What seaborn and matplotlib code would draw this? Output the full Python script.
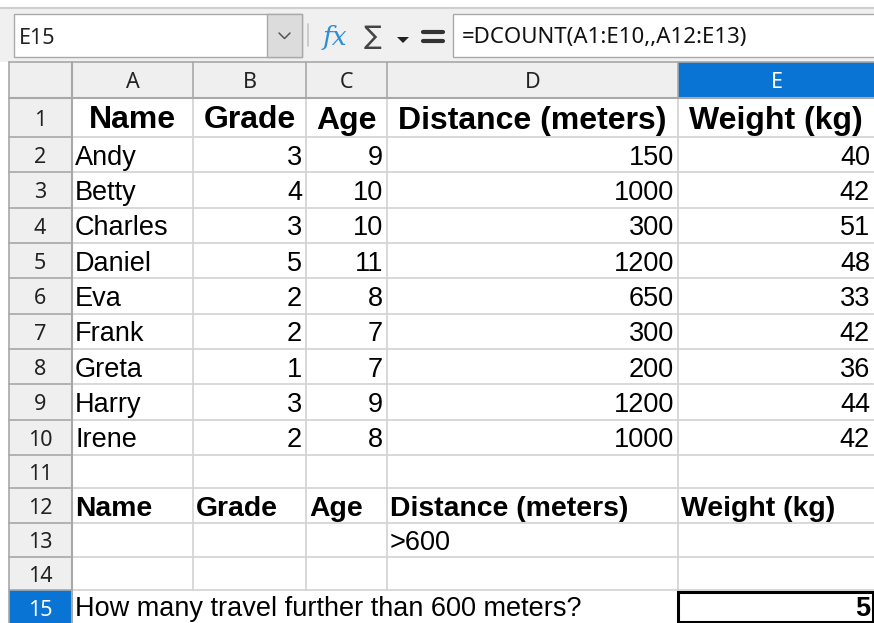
import matplotlib
matplotlib.use("Agg")
import matplotlib.pyplot as plt
from matplotlib.patches import Rectangle, Polygon
import seaborn as sns

# ---------------- data ----------------
col_letters = ["A", "B", "C", "D", "E"]
headers = ["Name", "Grade", "Age", "Distance (meters)", "Weight (kg)"]
names = ["Andy", "Betty", "Charles", "Daniel", "Eva", "Frank", "Greta", "Harry", "Irene"]
grades = [3, 4, 3, 5, 2, 2, 1, 3, 2]
ages = [9, 10, 10, 11, 8, 7, 7, 9, 8]
distances = [150, 1000, 300, 1200, 650, 300, 200, 1200, 1000]
weights = [40, 42, 51, 48, 33, 42, 36, 44, 42]
criteria = ["", "", "", ">600", ""]
question = "How many travel further than 600 meters?"
threshold = 600
answer = sum(1 for d in distances if d > threshold)
cell_ref = "E15"
formula = "=DCOUNT(A1:E10,,A12:E13)"

# ---------------- style ----------------
sns.set_theme(style="white")
plt.rcParams["font.family"] = ["Liberation Sans", "DejaVu Sans"]

W, H = 874, 623
fig = plt.figure(figsize=(W / 100, H / 100), dpi=100)
ax = fig.add_axes([0, 0, 1, 1])
ax.set_xlim(0, W)
ax.set_ylim(H, 0)
ax.axis("off")

UI = ["Noto Sans", "DejaVu Sans"]
HDR_BG = "#efefef"
HDR_LINE = "#a8a8a8"
GRID = "#d2d2d2"
SEL = "#0a74d4"

# layout
col_x = [72, 193, 306, 387, 678, 890]
rh_x0 = 9
hdr_y0, hdr_y1 = 62, 98
row_y = [98, 137]
for i in range(9):
    row_y.append(137 + (455 - 137) * (i + 1) / 9)
row_y += [488, 523, 557, 590, 625]

# toolbar
ax.add_patch(Rectangle((0, 0), W, hdr_y0, facecolor="#f0f0f0", edgecolor="none"))
ax.add_patch(Rectangle((0, 0), W, 7, facecolor="white", edgecolor="none"))
ax.plot([0, W], [7.5, 7.5], color="#cfcfcf", lw=1.5)
ax.add_patch(Rectangle((14, 14), 288, 43, facecolor="white", edgecolor="#a9a9a9", lw=1))
ax.add_patch(Rectangle((267, 14), 35, 43, facecolor="#dcdcdc", edgecolor="#a9a9a9", lw=1))
ax.plot([279, 284.5, 290], [33, 38.5, 33], color="#555555", lw=1.1)
ax.text(19, 38, cell_ref, family=UI, fontsize=15.5, va="center", ha="left", color="#222222")
ax.plot([308, 308], [24, 46], color="#c4c4c4", lw=1.2)
ax.text(335, 38, "fx", family=["DejaVu Serif"], style="italic", fontsize=19,
        color="#2d8fd6", ha="center", va="center")
ax.text(373, 37, "\u2211", family=["DejaVu Sans", "Noto Sans"], fontsize=19, color="#444444",
        ha="center", va="center")
ax.add_patch(Polygon([[397, 37], [409, 37], [403, 43]], closed=True, facecolor="#222222",
                     edgecolor="none"))
ax.plot([423, 443], [32, 32], color="#333333", lw=3)
ax.plot([423, 443], [41, 41], color="#333333", lw=3)
ax.add_patch(Rectangle((453, 14), 440, 43, facecolor="white", edgecolor="#a9a9a9", lw=1))
ax.text(462, 38, formula, family=UI, fontsize=16, va="center", ha="left", color="#111111")

# column header row
ax.add_patch(Rectangle((rh_x0, hdr_y0), W, hdr_y1 - hdr_y0, facecolor=HDR_BG, edgecolor="none"))
ax.add_patch(Rectangle((col_x[4], hdr_y0), col_x[5] - col_x[4], hdr_y1 - hdr_y0,
                       facecolor=SEL, edgecolor="none"))
for j, letter in enumerate(col_letters):
    cx = (col_x[j] + col_x[j + 1]) / 2 if j < 4 else (col_x[4] + 874) / 2 + 1
    ax.text(cx, (hdr_y0 + hdr_y1) / 2 + 3, letter, family=UI, fontsize=15.5,
            ha="center", va="center",
            color="white" if j == 4 else "#222222", fontweight="bold" if j == 4 else "normal")

# row header column
ax.add_patch(Rectangle((rh_x0, hdr_y1), col_x[0] - rh_x0, H - hdr_y1, facecolor=HDR_BG,
                       edgecolor="none"))
ax.add_patch(Rectangle((rh_x0, row_y[14]), col_x[0] - rh_x0, row_y[15] - row_y[14],
                       facecolor=SEL, edgecolor="none"))
for i in range(15):
    cy = (row_y[i] + row_y[i + 1]) / 2
    ax.text(40, cy + 3, str(i + 1), family=UI, fontsize=15.5, ha="center", va="center",
            color="white" if i == 14 else "#222222", fontweight="bold" if i == 14 else "normal")

# grid lines
for y in row_y[1:-1]:
    ax.plot([col_x[0], W], [y, y], color=GRID, lw=1.2, zorder=1)
    ax.plot([rh_x0, col_x[0]], [y, y], color=HDR_LINE, lw=1.2, zorder=1)
for x in col_x[1:5]:
    ax.plot([x, x], [hdr_y1, H], color=GRID, lw=1.2, zorder=1)
    ax.plot([x, x], [hdr_y0, hdr_y1], color=HDR_LINE, lw=1.2, zorder=1)
ax.plot([rh_x0, W], [hdr_y0, hdr_y0], color=HDR_LINE, lw=1.2)
ax.plot([rh_x0, W], [hdr_y1, hdr_y1], color=HDR_LINE, lw=1.5)
ax.plot([col_x[0], col_x[0]], [hdr_y0, H], color=HDR_LINE, lw=1.5)
ax.plot([rh_x0, rh_x0], [hdr_y0, H], color=HDR_LINE, lw=1.2)

def rowc(i):
    return (row_y[i] + row_y[i + 1]) / 2 + 3

# row 1 headers (bold, centered)
for j, h in enumerate(headers):
    x1 = col_x[j + 1] if j < 4 else 874
    ax.text((col_x[j] + x1) / 2, rowc(0), h, fontsize=23, fontweight="bold",
            ha="center", va="center", color="black")

# data rows
for i in range(9):
    cy = rowc(i + 1)
    ax.text(col_x[0] + 3, cy, names[i], fontsize=19.5, ha="left", va="center", color="black")
    for j, col in enumerate([grades, ages, distances, weights], start=1):
        xr = (col_x[j + 1] if j < 4 else 874) - 4
        ax.text(xr, cy, str(col[i]), fontsize=19.5, ha="right", va="center", color="black")

# criteria headers row 12
for j, h in enumerate(headers):
    ax.text(col_x[j] + 3, rowc(11), h, fontsize=20.4, fontweight="bold",
            ha="left", va="center", color="black")
# criteria row 13
for j, c in enumerate(criteria):
    if c:
        ax.text(col_x[j] + 3, rowc(12), c, fontsize=19.5, ha="left", va="center", color="black")

# row 15
ax.add_patch(Rectangle((col_x[0] + 1, row_y[14] + 1), col_x[4] - col_x[0] - 2,
                       H - row_y[14], facecolor="white", edgecolor="none", zorder=2))
ax.text(col_x[0] + 3, rowc(14) - 1, question, fontsize=19.5, ha="left", va="center",
        color="black", zorder=3)
ax.add_patch(Rectangle((col_x[4], row_y[14] + 1.5), 874 - col_x[4] - 1, H - row_y[14] - 2.5,
                       facecolor="white", edgecolor="black", lw=2.2, zorder=3))
ax.text(870, rowc(14) - 1, str(answer), fontsize=19.5, fontweight="bold", ha="right",
        va="center", color="black", zorder=4)

fig.savefig("out.png", dpi=100)
